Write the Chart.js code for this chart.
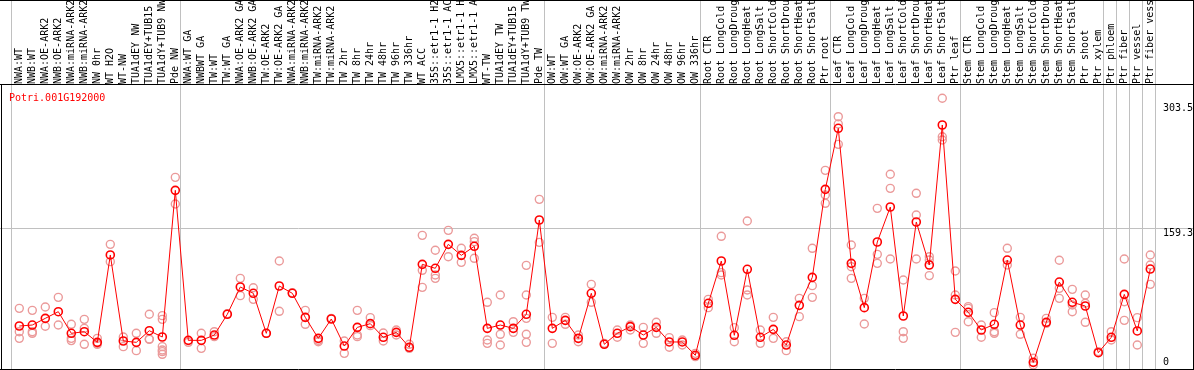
<!DOCTYPE html>
<html>
<head>
<meta charset="utf-8">
<script src="https://cdn.jsdelivr.net/npm/chart.js@4/dist/chart.umd.min.js"></script>
<style>
  html, body { margin: 0; padding: 0; background: #fff; }
  canvas { display: block; }
</style>
</head>
<body>
<canvas id="chart" width="1194" height="370"></canvas>
<script>
// Data
const geneName = "Potri.001G192000";

const categories = [
  "NWA:WT", "NWB:WT", "NWA:OE-ARK2", "NWB:OE-ARK2", "NWA:miRNA-ARK2", "NWB:miRNA-ARK2",
  "NW 0hr", "WT H2O", "WT-NW", "TUA1dEY NW", "TUA1dEY+TUB15 NW", "TUA1dY+TUB9 NW", "Pde NW",
  "NWA:WT GA", "NWBWT GA", "TW:WT", "TW:WT GA", "NWA:OE-ARK2 GA", "NWB:OE-ARK2 GA",
  "TW:OE-ARK2", "TW:OE-ARK2 GA", "NWA:miRNA-ARK2 GA", "NWB:miRNA-ARK2 GA", "TW:miRNA-ARK2",
  "TW:miRNA-ARK2 GA", "TW 2hr", "TW 8hr", "TW 24hr", "TW 48hr", "TW 96hr", "TW 336hr",
  "WT ACC", "35S::etr1-1 H2O", "35S::etr1-1 ACC", "LMX5::etr1-1 H2O", "LMX5::etr1-1 ACC",
  "WT-TW", "TUA1dEY TW", "TUA1dEY+TUB15 TW", "TUA1dY+TUB9 TW", "Pde TW",
  "OW:WT", "OW:WT GA", "OW:OE-ARK2", "OW:OE-ARK2 GA", "OW:miRNA-ARK2", "OW:miRNA-ARK2 GA",
  "OW 2hr", "OW 8hr", "OW 24hr", "OW 48hr", "OW 96hr", "OW 336hr",
  "Root CTR", "Root LongCold", "Root LongDrought", "Root LongHeat", "Root LongSalt",
  "Root ShortCold", "Root ShortDrought", "Root ShortHeat", "Root ShortSalt", "Ptr root",
  "Leaf CTR", "Leaf LongCold", "Leaf LongDrought", "Leaf LongHeat", "Leaf LongSalt",
  "Leaf ShortCold", "Leaf ShortDrought", "Leaf ShortHeat", "Leaf ShortSalt", "Ptr leaf",
  "Stem CTR", "Stem LongCold", "Stem LongDrought", "Stem LongHeat", "Stem LongSalt",
  "Stem ShortCold", "Stem ShortDrought", "Stem ShortHeat", "Stem ShortSalt", "Ptr shoot", "Ptr xylem",
  "Ptr phloem", "Ptr fiber", "Ptr vessel", "Ptr fiber vessel"
];

const means = [
  50.9, 52.0, 59.4, 66.8, 42.8, 44.6, 32.8, 129.7, 34.3, 32.8, 45.7, 38.7, 201.4,
  35.0, 35.0, 40.9, 63.9, 94.2, 87.2, 42.8, 95.3, 87.2, 60.5, 37.2, 58.7, 28.7, 49.4, 53.5,
  38.4, 43.9, 27.3, 119.3, 114.9, 141.5, 129.3, 139.3, 48.3, 52.0, 48.3, 63.9, 168.5,
  48.3, 57.2, 37.2, 87.2, 30.6, 42.8, 50.2, 40.9, 49.4, 33.2, 33.2, 18.4,
  76.1, 123.0, 40.6, 113.8, 38.4, 47.2, 29.8, 73.8, 104.9, 202.5,
  270.2, 120.4, 71.3, 144.1, 182.9, 62.0, 166.3, 118.6, 273.9, 80.5,
  66.1, 46.5, 52.8, 124.1, 52.0, 10.6, 55.0, 99.7, 77.2, 73.1, 21.3,
  38.4, 86.0, 45.4, 114.1
];

// one list of replicate values per category
const replicates = [
  [70.5, 44.6, 37.2], [68.3, 44.6, 42.8], [72.0, 50.6], [82.7, 52.0], [52.8, 37.2, 34.7],
  [58.3, 48.3, 30.6], [37.2, 31.7, 30.6], [141.5, 122.3], [38.7, 28.0], [42.8, 23.6],
  [63.9, 36.5, 36.1], [62.4, 58.3, 28.0, 24.3, 22.5, 19.5], [215.8, 186.2],
  [32.8], [42.8, 26.1], [44.6, 39.1], [64.6], [103.8, 84.6], [93.4, 80.5], [42.8],
  [123.0, 67.2], [87.9], [68.3, 52.8], [35.0, 33.5], [59.4], [34.3, 20.6], [68.3, 40.9, 39.1],
  [60.2, 51.3], [43.2, 34.3], [46.5, 40.9], [30.6, 26.1], [151.5, 112.7, 93.8],
  [134.9, 107.5, 103.8], [157.0, 127.8], [137.1, 121.5], [148.2, 144.5, 126.0],
  [77.2, 35.4, 31.7], [85.3, 41.7, 29.8], [55.7, 43.9], [118.2, 85.3, 59.4, 41.7, 32.8],
  [191.4, 143.7],
  [60.5, 31.7], [60.5, 52.8], [40.9, 33.5], [97.1, 77.2], [31.7], [46.5, 38.4], [52.0, 46.5],
  [49.4, 31.7], [55.0, 42.8], [38.0, 27.3], [35.4, 29.8], [20.6, 16.9],
  [80.5, 71.3], [150.4, 110.1, 107.5], [49.1, 33.5], [167.4, 90.9, 85.3], [46.5, 31.7],
  [60.5, 37.2], [33.5, 23.6], [81.6, 61.3], [137.1, 95.7, 82.7], [223.6, 196.2, 187.0],
  [283.1, 275.0, 252.4], [140.8, 116.7, 103.8], [81.6, 53.1], [181.4, 130.4, 120.4],
  [219.2, 203.6, 125.2], [101.9, 44.6, 37.2], [198.1, 174.0, 125.2], [127.8, 124.1, 106.8],
  [303.5, 260.9, 257.2], [111.9, 85.3, 43.9],
  [72.4, 70.5, 55.7], [52.0, 38.4], [65.7, 44.6, 42.8], [137.1, 118.6], [60.5, 41.7],
  [15.1, 7.7], [59.4, 53.9], [123.8, 92.7, 81.6], [91.6, 74.2, 66.8], [85.3, 76.1, 55.0], [22.5],
  [44.6, 35.4], [125.2, 77.9, 57.2], [60.2, 29.8], [129.7, 118.6, 97.1]
];

const tickValues = [0, 159.3, 303.5];
const gridValue = 159.3;
// last category index of each group (a gray separator follows it)
const groupEnds = [-1, 12, 40, 52, 62, 72, 83, 84, 85, 86, 87];

const FONT = '10px "DejaVu Sans Mono", monospace';

// Frame, separators, labels
const framePlugin = {
  id: 'frame',
  beforeDatasetsDraw(chart) {
    const ctx = chart.ctx;
    const xs = chart.scales.x, ys = chart.scales.y;
    const area = chart.chartArea;
    ctx.save();
    ctx.strokeStyle = '#c0c0c0';
    ctx.lineWidth = 1;
    ctx.beginPath();
    groupEnds.forEach(i => {
      const px = Math.round(xs.getPixelForValue(i) + 5) + 0.5;
      ctx.moveTo(px, 0);
      ctx.lineTo(px, area.bottom);
    });
    const gy = Math.round(ys.getPixelForValue(gridValue)) + 0.5;
    ctx.moveTo(0, gy);
    ctx.lineTo(chart.width, gy);
    ctx.stroke();
    ctx.restore();
  },
  afterDraw(chart) {
    const ctx = chart.ctx;
    const xs = chart.scales.x, ys = chart.scales.y;
    const area = chart.chartArea;
    ctx.save();

    // black frame
    ctx.strokeStyle = '#000';
    ctx.lineWidth = 1;
    ctx.beginPath();
    ctx.moveTo(0, 0.5); ctx.lineTo(chart.width, 0.5);
    ctx.moveTo(0, area.top - 0.5); ctx.lineTo(chart.width, area.top - 0.5);
    ctx.moveTo(0, area.bottom + 0.5); ctx.lineTo(chart.width, area.bottom + 0.5);
    ctx.moveTo(1.5, area.top - 1); ctx.lineTo(1.5, area.bottom + 1);
    ctx.moveTo(chart.width - 0.5, 0); ctx.lineTo(chart.width - 0.5, area.bottom + 1);
    ctx.stroke();

    // category labels, rotated
    ctx.font = FONT;
    ctx.fillStyle = '#000';
    ctx.textAlign = 'left';
    ctx.textBaseline = 'alphabetic';
    categories.forEach((name, i) => {
      const px = xs.getPixelForValue(i);
      ctx.save();
      ctx.translate(px, area.top - 1);
      ctx.rotate(-Math.PI / 2);
      ctx.fillText(name, 0, 3);
      ctx.restore();
    });

    // value labels on the right
    tickValues.forEach(v => {
      let y = ys.getPixelForValue(v) + 8;
      y = Math.max(area.top + 26, Math.min(area.bottom - 4, y));
      ctx.fillText(String(v), area.right + 8, y);
    });

    // gene name
    ctx.fillStyle = '#ff0000';
    ctx.fillText(geneName, area.left + 8, area.top + 16);
    ctx.restore();
  }
};

const meanPoints = means.map((v, i) => ({ x: i, y: v }));
const repPoints = replicates.flatMap((reps, i) => reps.map(v => ({ x: i, y: v })));

new Chart(document.getElementById('chart'), {
  type: 'scatter',
  data: {
    datasets: [
      {
        label: 'mean',
        data: meanPoints,
        showLine: true,
        borderColor: '#ff0000',
        borderWidth: 1,
        pointRadius: 4,
        pointBorderWidth: 1.6,
        pointBorderColor: '#ff0000',
        pointBackgroundColor: 'rgba(0,0,0,0)',
        clip: false,
        order: 0
      },
      {
        label: 'replicates',
        data: repPoints,
        showLine: false,
        pointRadius: 4,
        pointBorderWidth: 1.4,
        pointBorderColor: '#eb9a9a',
        pointBackgroundColor: 'rgba(0,0,0,0)',
        clip: false,
        order: 1
      }
    ]
  },
  options: {
    responsive: false,
    maintainAspectRatio: false,
    animation: false,
    layout: { autoPadding: false, padding: { left: 1, top: 85, right: 39, bottom: 1 } },
    plugins: { legend: { display: false }, tooltip: { enabled: false } },
    scales: {
      x: { type: 'linear', display: false, min: -1.408, max: 87.362 },
      y: { type: 'linear', display: false, min: 3.22, max: 318.25 }
    }
  },
  plugins: [framePlugin]
});
</script>
</body>
</html>
